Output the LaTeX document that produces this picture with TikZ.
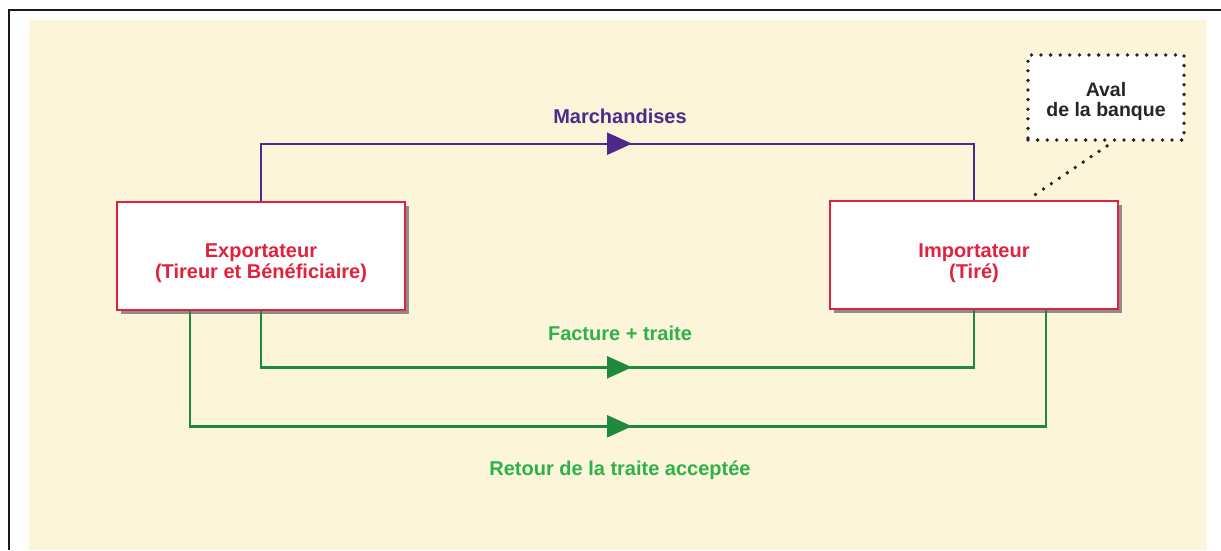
\documentclass[tikz,border=0pt]{standalone}
\usepackage{fontspec}
\setmainfont{Liberation Sans}
\usetikzlibrary{arrows.meta,decorations.markings,shadows,calc}
\definecolor{bgbeige}{HTML}{FDF5DA}
\definecolor{boxred}{HTML}{E1223F}
\definecolor{flowpurple}{HTML}{4B2A8C}
\definecolor{linegreen}{HTML}{1F8A3B}
\definecolor{textgreen}{HTML}{2DB24A}
\tikzset{
  party/.style={draw=boxred, line width=2.6pt, fill=white, minimum width=288pt, minimum height=108pt,
    inner sep=0pt,
    drop shadow={shadow xshift=4pt, shadow yshift=-4pt, fill=black!55, opacity=0.8}},
  partytext/.style={inner sep=0pt, align=center, text=boxred, font=\fontsize{20}{21}\selectfont\bfseries},
  flowlabel/.style={font=\fontsize{20}{21}\selectfont\bfseries, inner sep=0pt},
  flowline/.style={line width=2.4pt, postaction=decorate},
  arrowat/.style={decoration={markings, mark=at position #1 with {\arrow{Triangle[length=25pt,width=22pt]}}}},
  dots/.style={draw=black!85, line width=3.8pt, dash pattern=on 0pt off 9.6pt, line cap=round},
  notebox/.style={dots, fill=white, minimum width=156pt, minimum height=85pt, inner sep=0pt},
  notetext/.style={inner sep=0pt, align=center, text=black!85, font=\fontsize{19.5}{20.5}\selectfont\bfseries}
}
\begin{document}
\begin{tikzpicture}[x=1pt,y=-1pt]
\useasboundingbox (0,0) rectangle (1221,550);
\fill[white] (0,0) rectangle (1221,550);
\fill[bgbeige] (29,20) rectangle (1207,550);
\draw[line width=2pt, black!90] (1221,10) -- (9,10) -- (9,550);

\node[party] (exp) at (261,256) {};
\node[partytext] (exptext) at ([yshift=-7pt]exp.center) {Exportateur\\(Tireur et Bénéficiaire)};
\node[party] (imp) at (974,255) {};
\node[partytext] (imptext) at ([yshift=-8pt]imp.center) {Importateur\\(Tiré)};
\node[notebox] (aval) at (1106,97.5) {};
\node[notetext] (avaltext) at ([yshift=-4pt]aval.center) {Aval\\de la banque};

\draw[flowline, flowpurple, arrowat=428pt] (exp.north) -- ++(0,-57) -| (imp.north);
\draw[flowline, linegreen, arrowat=427pt] (exp.south) -- ++(0,56) -| (imp.south);
\draw[flowline, linegreen, arrowat=557pt] ([xshift=-71pt]exp.south) -- ++(0,115) -| ([xshift=72pt]imp.south);

\draw[dots] ([xshift=1pt,yshift=-4pt]aval.south) -- ([xshift=199pt]imp.north west);

\node[flowlabel, text=flowpurple] (lmarch) at (620,116) {Marchandises};
\node[flowlabel, text=textgreen] (lfact) at (620,333) {Facture + traite};
\node[flowlabel, text=textgreen] (lretour) at (620,470) {Retour de la traite acceptée};
\end{tikzpicture}
\end{document}
